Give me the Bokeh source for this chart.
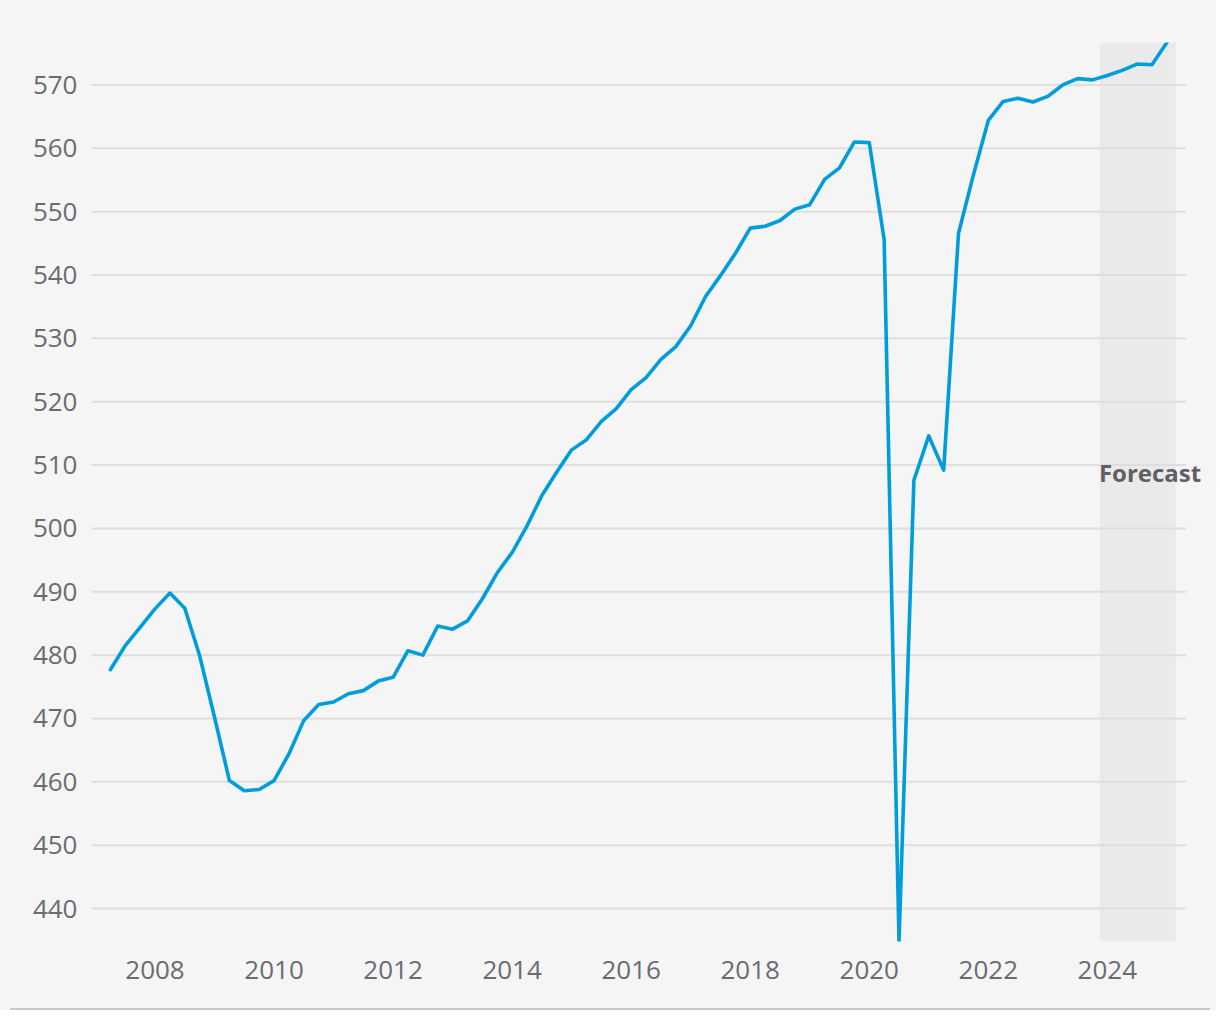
from bokeh.plotting import figure
from bokeh.models import Range1d, BoxAnnotation, Label, FixedTicker, Div, ColumnDataSource
from bokeh.layouts import column
from bokeh.embed import file_html
from bokeh.resources import INLINE

# Quarterly series, 2007 Q2 .. 2025 Q1
start_year = 2007
start_quarter = 2
values = [
    477.7, 481.5, 484.4, 487.3, 489.8, 487.4, 479.9, 470.2,
    460.2, 458.6, 458.8, 460.2, 464.4, 469.7, 472.2, 472.6,
    473.9, 474.4, 475.9, 476.5, 480.7, 480.0, 484.6, 484.1,
    485.4, 488.9, 493.0, 496.2, 500.4, 505.2, 508.9, 512.4,
    514.0, 516.9, 518.9, 521.9, 523.8, 526.7, 528.7, 532.0,
    536.6, 539.9, 543.4, 547.4, 547.7, 548.6, 550.4, 551.1,
    555.1, 556.9, 561.0, 560.9, 545.6, 434.8, 507.6, 514.6,
    509.2, 546.6, 555.8, 564.4, 567.4, 567.9, 567.3, 568.2,
    570.0, 571.0, 570.8, 571.5, 572.3, 573.3, 573.2, 576.7,
]
y_ticks = [440, 450, 460, 470, 480, 490, 500, 510, 520, 530, 540, 550, 560, 570]
x_ticks = [2008, 2010, 2012, 2014, 2016, 2018, 2020, 2022, 2024]
forecast_start = 2023.875
forecast_end = 2025.15
forecast_label = "Forecast"

# quarter start as fractional year
x = [start_year + (start_quarter - 1 + i) / 4.0 for i in range(len(values))]

BG = "#f5f5f5"
TEXT = "#6b6b70"
FONT = "Open Sans"
X_START = 2006.933
GRID_END = 2025.33
X_END = 2025.834

p = figure(
    width=1216, height=1008,
    output_backend="svg", toolbar_location=None,
    x_range=Range1d(X_START, X_END),
    y_range=Range1d(min(values), max(values)),
    min_border_left=91, min_border_right=0, min_border_top=42, min_border_bottom=67,
    background_fill_color=BG, border_fill_color=BG,
)
p.outline_line_color = None

shade = BoxAnnotation(left=forecast_start, right=forecast_end,
                      bottom=min(values), top=max(values),
                      fill_color="#000000", fill_alpha=0.045, line_color=None,
                      level="underlay")
p.add_layout(shade)

# horizontal grid lines (ending before the right edge of the frame)
p.segment(x0=[X_START] * len(y_ticks), x1=[GRID_END] * len(y_ticks),
          y0=y_ticks, y1=y_ticks, line_color="#dedede", line_width=2)

src = ColumnDataSource(dict(x=x, y=values))
p.line("x", "y", source=src, line_color="#009ddc", line_width=3.6,
       line_join="round", line_cap="round")

p.add_layout(Label(x=forecast_start, y=508.8, text=forecast_label,
                   text_font=FONT, text_font_style="bold", text_font_size="24px",
                   text_color="#5f6064", text_baseline="middle", text_align="left",
                   x_offset=-1))

p.xgrid.visible = False
p.ygrid.visible = False

p.yaxis.ticker = FixedTicker(ticks=y_ticks)
p.xaxis.ticker = FixedTicker(ticks=x_ticks)
for ax in (p.xaxis[0], p.yaxis[0]):
    ax.axis_line_color = None
    ax.major_tick_line_color = None
    ax.minor_tick_line_color = None
    ax.major_tick_out = 0
    ax.major_tick_in = 0
    ax.minor_tick_out = 0
    ax.major_label_text_font = FONT
    ax.major_label_text_font_size = "26px"
    ax.major_label_text_color = TEXT
p.yaxis.major_label_standoff = 14
p.xaxis.major_label_standoff = 19

rule = Div(text="", width=1200, height=2, margin=(0, 0, 0, 10),
           styles={"background-color": "#c8c8c8"})

layout = column(p, rule, spacing=0, styles={"background-color": BG})

html = file_html(layout, INLINE)
html = html.replace("<body>", '<body style="background-color:#f5f5f5;">', 1)
open("out.html", "w").write(html)
